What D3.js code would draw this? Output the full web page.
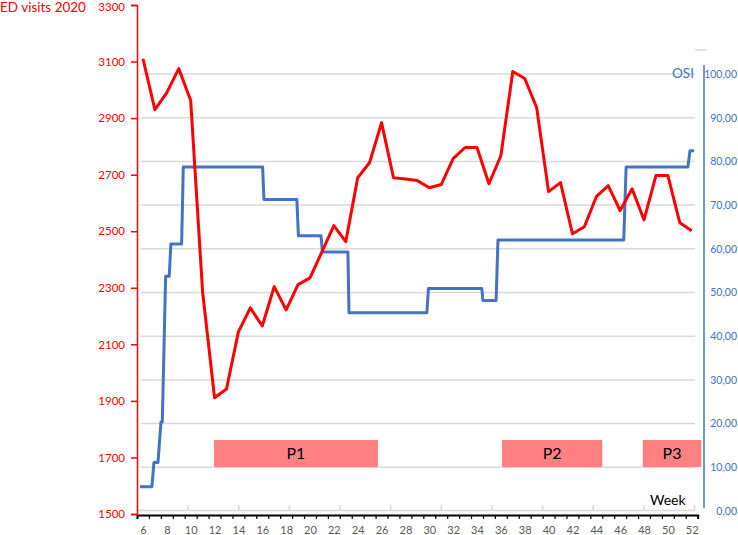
<!DOCTYPE html>
<html>
<head>
<meta charset="utf-8">
<script src="https://cdn.jsdelivr.net/npm/d3@7"></script>
<style>
  body { margin: 0; background: #fff; }
  svg { display: block; font-family: Lato, "Open Sans", sans-serif; }
</style>
</head>
<body>
<div id="chart"></div>
<script>
// Weekly ED visits (red, left axis)
const weeks = [6, 7, 8, 9, 10, 11, 12, 13, 14, 15, 16, 17, 18, 19, 20, 21, 22, 23, 24, 25, 26, 27, 28, 29,
  30, 31, 32, 33, 34, 35, 36, 37, 38, 39, 40, 41, 42, 43, 44, 45, 46, 47, 48, 49, 50, 51, 52];
const edVisits = [3110, 2930, 2990, 3075, 2962, 2285, 1911, 1942, 2144, 2229, 2165, 2304, 2222, 2311,
  2335, 2427, 2520, 2463, 2689, 2743, 2884, 2689, 2685, 2679, 2654, 2665, 2757, 2796, 2796, 2668,
  2767, 3065, 3040, 2937, 2640, 2672, 2491, 2516, 2622, 2661, 2573, 2650, 2540, 2697, 2697, 2530, 2502];

// OSI stringency index (blue, right axis), breakpoints in fractional weeks
const osiWeek = [5.75, 6.75, 6.92, 7.26, 7.51, 7.62, 7.90, 8.20, 8.34, 9.24, 9.38, 16.03, 16.14, 18.9,
  19.03, 20.92, 21.05, 23.18, 23.27, 29.8, 29.93, 34.4, 34.5, 35.6, 35.76, 46.3, 46.5, 51.68, 51.85, 52.2];
const osiValue = [5.56, 5.56, 11.11, 11.11, 20.37, 20.37, 53.7, 53.7, 61.11, 61.11, 78.7, 78.7, 71.3, 71.3,
  63.0, 63.0, 59.26, 59.26, 45.37, 45.37, 50.93, 50.93, 48.15, 48.15, 62.04, 62.04, 78.7, 78.7, 82.41, 82.41];

// Periods
const periodLabels = ["P1", "P2", "P3"];
const periodStart = [11.95, 36.1, 47.9];
const periodEnd = [25.7, 44.5, 52.8];

const edTicks = [1500, 1700, 1900, 2100, 2300, 2500, 2700, 2900, 3100, 3300];
const osiTicks = [0, 10, 20, 30, 40, 50, 60, 70, 80, 90, 100];
const weekLabels = [6, 8, 10, 12, 14, 16, 18, 20, 22, 24, 26, 28, 30, 32, 34, 36, 38, 40, 42, 44, 46, 48, 50, 52];

const width = 738, height = 535;
const red = "#ff0000", blue = "#4472c4";

const svg = d3.select("#chart").append("svg")
    .attr("width", width)
    .attr("height", height);

// Scales
const x = d3.scaleLinear().domain([5.5, 52.5]).range([137, 697.7]);
const yEd = d3.scaleLinear().domain([1500, 3300]).range([514, 5]);
const yOsi = d3.scaleLinear().domain([0, 100]).range([511, 74]);
const xOsiCat = d3.scaleLinear().domain([0, 11]).range([137, 694]);

// Gray gridlines (OSI)
svg.append("g")
    .selectAll("line")
    .data(osiTicks.filter(d => d > 0))
    .join("line")
    .attr("x1", 141).attr("x2", 695)
    .attr("y1", d => yOsi(d)).attr("y2", d => yOsi(d))
    .attr("stroke", "#d9d9d9")
    .attr("stroke-width", 1.5);

// Small gray mark top right
svg.append("line")
    .attr("x1", 695).attr("x2", 707).attr("y1", 50).attr("y2", 50)
    .attr("stroke", "#d9d9d9").attr("stroke-width", 1.5);

// OSI category axis (gray, just above the week axis)
const osiCatAxis = svg.append("g")
    .attr("transform", `translate(0,${yOsi(0) - 1})`)
    .call(d3.axisTop(xOsiCat).tickValues(d3.range(1, 11)).tickSize(5).tickFormat(""));
osiCatAxis.select(".domain").attr("stroke", "#d9d9d9").attr("stroke-width", 1.5);
osiCatAxis.selectAll(".tick line").attr("stroke", "#d9d9d9").attr("stroke-width", 1.5);

// Period boxes
const periods = svg.append("g")
    .selectAll("g")
    .data(periodLabels.map((p, i) => ({label: p, start: periodStart[i], end: periodEnd[i]})))
    .join("g");
periods.append("rect")
    .attr("x", d => x(d.start))
    .attr("width", d => x(d.end) - x(d.start))
    .attr("y", 440)
    .attr("height", 27)
    .attr("fill", "#ff8080");
periods.append("text")
    .attr("x", d => (x(d.start) + x(d.end)) / 2)
    .attr("y", 459)
    .attr("text-anchor", "middle")
    .attr("font-size", 16)
    .attr("fill", "#000")
    .text(d => d.label);

// Week axis (black)
const weekAxis = svg.append("g")
    .attr("transform", "translate(0,515)")
    .call(d3.axisBottom(x).tickValues(d3.range(5.5, 53, 1)).tickSize(4).tickFormat(""));
weekAxis.select(".domain").attr("stroke", "#000").attr("stroke-width", 2);
weekAxis.selectAll(".tick line").attr("stroke", "#000").attr("stroke-width", 1.2);

const weekLabelAxis = svg.append("g")
    .attr("transform", "translate(0,515)")
    .call(d3.axisBottom(x).tickValues(weekLabels).tickSize(0).tickPadding(11));
weekLabelAxis.select(".domain").remove();
weekLabelAxis.selectAll("text")
    .attr("font-family", "Lato, sans-serif")
    .attr("font-size", 11)
    .attr("fill", "#595959");

// Left axis (ED visits)
const leftAxis = svg.append("g")
    .attr("transform", "translate(137,0)")
    .call(d3.axisLeft(yEd).tickValues(edTicks).tickSize(6).tickPadding(6).tickFormat(d3.format("d")));
leftAxis.select(".domain").attr("stroke", red).attr("stroke-width", 1.5);
leftAxis.selectAll(".tick line").attr("stroke", red).attr("stroke-width", 1.5);
leftAxis.selectAll("text")
    .attr("font-family", "Lato, sans-serif")
    .attr("font-size", 11.5)
    .attr("fill", red);
// keep the top label inside the picture
leftAxis.selectAll(".tick text").filter(d => d === 3300).attr("y", 2);

// Right axis (OSI)
const rightAxis = svg.append("g")
    .attr("transform", "translate(704,0)")
    .call(d3.axisRight(yOsi).tickValues(osiTicks).tickSize(0).tickPadding(33)
        .tickFormat(d => d3.format(".2f")(d).replace(".", ",")));
rightAxis.select(".domain").attr("d", `M0,${yOsi(100) - 9}V${yOsi(0) - 3}`)
    .attr("stroke", blue).attr("stroke-width", 1.5);
rightAxis.selectAll("text")
    .attr("text-anchor", "end")
    .attr("font-family", "Lato, sans-serif")
    .attr("font-size", 10.5)
    .attr("fill", blue);

// OSI line
const osiData = osiWeek.map((w, i) => [w, osiValue[i]]);
svg.append("path")
    .datum(osiData)
    .attr("fill", "none")
    .attr("stroke", blue)
    .attr("stroke-width", 3)
    .attr("stroke-linejoin", "round")
    .attr("d", d3.line().x(d => x(d[0])).y(d => yOsi(d[1])));

// ED visits line
const edData = weeks.map((w, i) => [w, edVisits[i]]);
svg.append("path")
    .datum(edData)
    .attr("fill", "none")
    .attr("stroke", red)
    .attr("stroke-width", 3)
    .attr("stroke-linejoin", "round")
    .attr("d", d3.line().x(d => x(d[0])).y(d => yEd(d[1])));

// Titles
svg.append("text")
    .attr("x", 0).attr("y", 12)
    .attr("font-size", 13.5)
    .attr("fill", red)
    .text("ED visits 2020");

svg.append("text")
    .attr("x", 672).attr("y", 78)
    .attr("font-size", 13.5)
    .attr("fill", blue)
    .text("OSI");

svg.append("text")
    .attr("x", 650).attr("y", 505)
    .attr("font-size", 14)
    .attr("fill", "#000")
    .text("Week");
</script>
</body>
</html>
